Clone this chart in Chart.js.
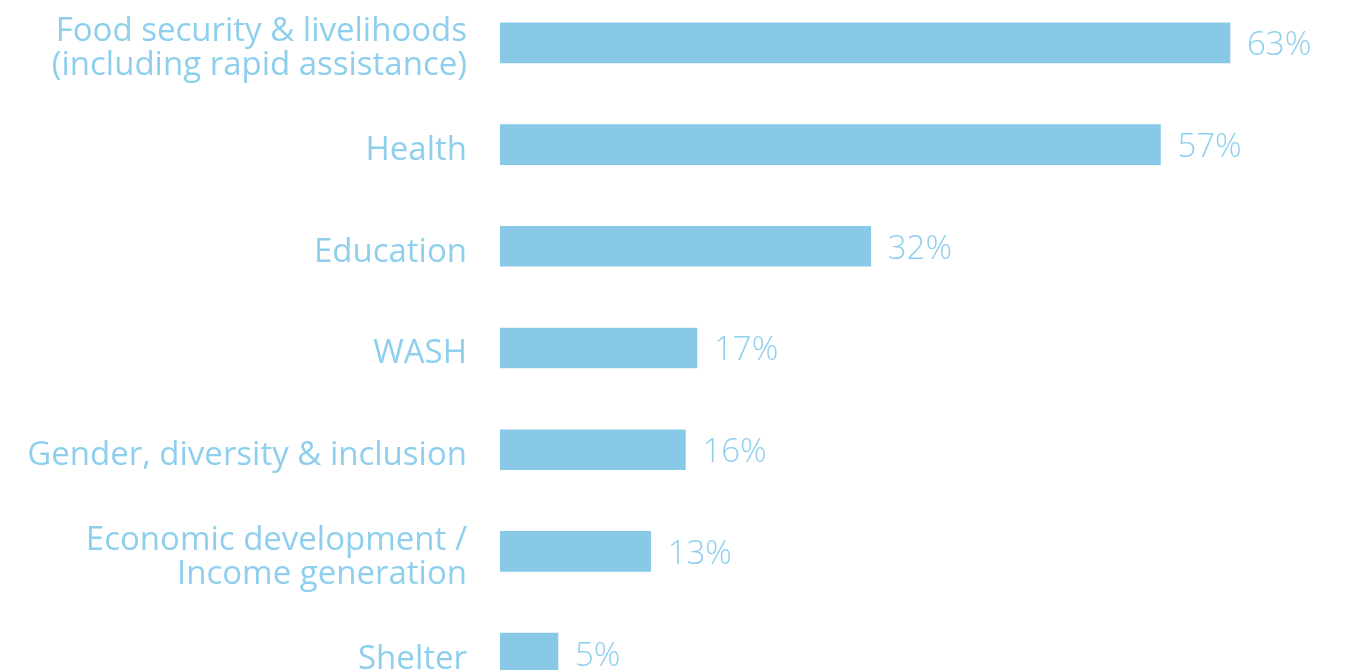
<!DOCTYPE html>
<html>
<head>
<meta charset="utf-8">
<script src="https://cdn.jsdelivr.net/npm/chart.js@4/dist/chart.umd.min.js"></script>
<style>
  body { margin: 0; overflow: hidden; background: #fff; }
  #bars { position: absolute; left: 0; top: -8px; }
</style>
</head>
<body>
<canvas id="bars" width="1350" height="720"></canvas>
<script>
var sectors = [
    ["Food security & livelihoods", "(including rapid assistance)"],
    "Health",
    "Education",
    "WASH",
    "Gender, diversity & inclusion",
    ["Economic development /", "Income generation"],
    "Shelter"
];
var shares = [63, 57, 32, 17, 16, 13, 5];

var barBlue = "#88c9e8";
var textBlue = "#8ecfed";
var fontFamily = "'Open Sans', Lato, sans-serif";

// writes the % value just past the end of each bar
var valueLabels = {
    id: 'valueLabels',
    afterDatasetsDraw: function (chart) {
        var c = chart.ctx;
        var meta = chart.getDatasetMeta(0);
        c.save();
        c.font = "300 33px " + fontFamily;
        c.fillStyle = textBlue;
        c.textAlign = "left";
        c.textBaseline = "middle";
        meta.data.forEach(function (bar, i) {
            c.fillText(shares[i] + "%", bar.x + 17, bar.y + 3);
        });
        c.restore();
    }
};

var ctx = document.getElementById("bars");

var myChart = new Chart(ctx, {
    type: 'bar',
    data: {
        labels: sectors,
        datasets: [{
            data: shares,
            backgroundColor: barBlue,
            barThickness: 40
        }]
    },
    options: {
        indexAxis: 'y',
        responsive: false,
        animation: false,
        layout: { padding: { top: 0, right: 0, bottom: 8, left: 0 } },
        plugins: {
            legend: { display: false },
            tooltip: { enabled: false }
        },
        scales: {
            x: {
                display: false,
                min: 0,
                max: 73.36
            },
            y: {
                afterFit: function (scale) {
                    scale.width = 500;
                    scale.paddingTop = 0;
                    scale.paddingBottom = 0;
                },
                grid: { display: false, drawTicks: false },
                border: { display: false },
                ticks: {
                    padding: 33,
                    labelOffset: 6,
                    color: textBlue,
                    font: { family: fontFamily, size: 33, weight: 400, lineHeight: 1.03 }
                }
            }
        }
    },
    plugins: [valueLabels]
});
</script>
</body>
</html>
